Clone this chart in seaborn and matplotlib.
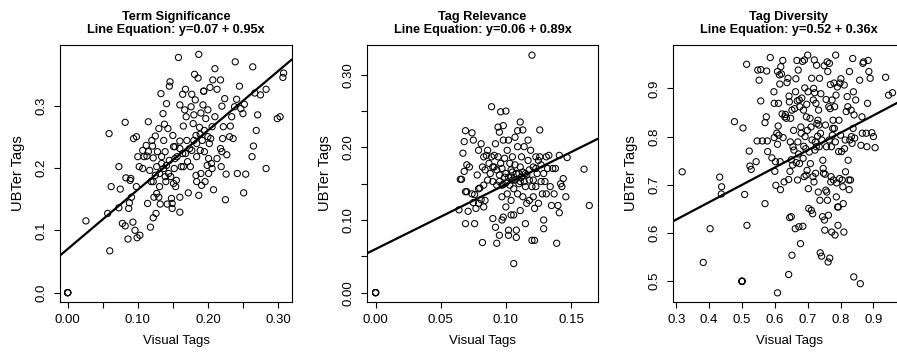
import numpy as np
import pandas as pd
import seaborn as sns
import matplotlib.pyplot as plt

# Term Significance: visual tags vs UBTer tags
ts_x = [0, 0, 0, 0,
        0.026, 0.057, 0.060, 0.059, 0.062, 0.073, 0.075, 0.073, 0.078, 0.082,
        0.082, 0.083, 0.086, 0.087, 0.088, 0.089, 0.090, 0.093, 0.094, 0.096,
        0.098, 0.098, 0.100, 0.099, 0.103, 0.091, 0.107, 0.107, 0.112, 0.113,
        0.115, 0.114, 0.117, 0.118, 0.119, 0.120, 0.121, 0.122, 0.122, 0.123,
        0.125, 0.125, 0.126, 0.127, 0.128, 0.130, 0.131, 0.132, 0.133, 0.134,
        0.136, 0.137, 0.138, 0.139, 0.140, 0.141, 0.142, 0.143, 0.144, 0.145,
        0.146, 0.148, 0.149, 0.149, 0.150, 0.151, 0.152, 0.153, 0.154, 0.155,
        0.158, 0.160, 0.160, 0.160, 0.160, 0.162, 0.164, 0.164, 0.165, 0.167,
        0.168, 0.169, 0.170, 0.171, 0.172, 0.174, 0.175, 0.176, 0.177, 0.179,
        0.180, 0.181, 0.182, 0.183, 0.183, 0.184, 0.186, 0.187, 0.187, 0.188,
        0.189, 0.190, 0.190, 0.191, 0.193, 0.194, 0.194, 0.195, 0.196, 0.197,
        0.199, 0.200, 0.200, 0.201, 0.202, 0.203, 0.204, 0.205, 0.206, 0.207,
        0.208, 0.210, 0.210, 0.213, 0.218, 0.219, 0.220, 0.220, 0.221, 0.222,
        0.224, 0.225, 0.226, 0.227, 0.231, 0.232, 0.234, 0.236, 0.238, 0.239,
        0.241, 0.242, 0.245, 0.247, 0.250, 0.251, 0.252, 0.254, 0.263, 0.264,
        0.265, 0.267, 0.269, 0.271, 0.275, 0.283, 0.283, 0.299, 0.303, 0.307,
        0.308,
        0.127, 0.131, 0.137, 0.141, 0.145, 0.134, 0.139, 0.147, 0.130, 0.122,
        0.168, 0.165, 0.156, 0.151, 0.153, 0.160, 0.115, 0.109, 0.102, 0.180,
        0.177, 0.184, 0.189, 0.192, 0.195, 0.184, 0.201, 0.206, 0.213, 0.218]
ts_y = [0, 0, 0, 0,
        0.115, 0.127, 0.067, 0.255, 0.170, 0.202, 0.166, 0.136, 0.111, 0.273,
        0.107, 0.184, 0.086, 0.135, 0.144, 0.180, 0.183, 0.113, 0.247, 0.100,
        0.250, 0.170, 0.218, 0.088, 0.092, 0.153, 0.228, 0.199, 0.236, 0.219,
        0.274, 0.143, 0.196, 0.105, 0.178, 0.244, 0.235, 0.216, 0.120, 0.153,
        0.188, 0.251, 0.127, 0.159, 0.226, 0.263, 0.170, 0.142, 0.319, 0.207,
        0.287, 0.244, 0.270, 0.226, 0.178, 0.303, 0.142, 0.263, 0.191, 0.331,
        0.338, 0.151, 0.143, 0.135, 0.252, 0.234, 0.199, 0.215, 0.170, 0.180,
        0.377, 0.301, 0.129, 0.243, 0.153, 0.202, 0.223, 0.318, 0.267, 0.293,
        0.326, 0.282, 0.244, 0.210, 0.160, 0.231, 0.202, 0.298, 0.318, 0.271,
        0.285, 0.350, 0.309, 0.252, 0.188, 0.178, 0.344, 0.156, 0.382, 0.265,
        0.228, 0.191, 0.288, 0.172, 0.301, 0.323, 0.323, 0.226, 0.178, 0.279,
        0.204, 0.250, 0.293, 0.215, 0.239, 0.329, 0.247, 0.207, 0.266, 0.341,
        0.165, 0.359, 0.282, 0.326, 0.341, 0.202, 0.299, 0.226, 0.247, 0.266,
        0.311, 0.149, 0.190, 0.221, 0.250, 0.267, 0.282, 0.247, 0.298, 0.370,
        0.310, 0.191, 0.331, 0.295, 0.287, 0.160, 0.302, 0.190, 0.218, 0.362,
        0.235, 0.320, 0.260, 0.285, 0.317, 0.326, 0.199, 0.279, 0.282, 0.345,
        0.352,
        0.202, 0.191, 0.199, 0.204, 0.212, 0.218, 0.186, 0.186, 0.153, 0.178,
        0.223, 0.202, 0.218, 0.175, 0.234, 0.231, 0.226, 0.218, 0.202, 0.244,
        0.228, 0.239, 0.254, 0.244, 0.260, 0.218, 0.191, 0.199, 0.215, 0.231]

# Tag Relevance
tr_x = [0, 0, 0, 0,
        0.064, 0.065, 0.066, 0.067, 0.068, 0.068, 0.069, 0.069, 0.069, 0.070,
        0.070, 0.071, 0.072, 0.074, 0.074, 0.075, 0.075, 0.076, 0.076, 0.077,
        0.078, 0.079, 0.079, 0.079, 0.080, 0.081, 0.081, 0.082, 0.082, 0.083,
        0.083, 0.083, 0.084, 0.084, 0.085, 0.086, 0.086, 0.087, 0.088, 0.089,
        0.089, 0.090, 0.090, 0.090, 0.091, 0.091, 0.092, 0.092, 0.093, 0.093,
        0.093, 0.094, 0.094, 0.095, 0.095, 0.095, 0.096, 0.096, 0.097, 0.097,
        0.097, 0.098, 0.098, 0.098, 0.099, 0.099, 0.100, 0.100, 0.100, 0.101,
        0.101, 0.102, 0.102, 0.102, 0.103, 0.103, 0.104, 0.104, 0.104, 0.105,
        0.105, 0.106, 0.106, 0.106, 0.107, 0.107, 0.108, 0.108, 0.108, 0.109,
        0.109, 0.109, 0.110, 0.111, 0.111, 0.111, 0.112, 0.112, 0.113, 0.113,
        0.114, 0.115, 0.115, 0.115, 0.116, 0.117, 0.117, 0.118, 0.118, 0.119,
        0.120, 0.120, 0.120, 0.121, 0.121, 0.122, 0.122, 0.123, 0.123, 0.124,
        0.125, 0.126, 0.126, 0.127, 0.127, 0.128, 0.129, 0.129, 0.129, 0.130,
        0.131, 0.131, 0.132, 0.133, 0.134, 0.135, 0.136, 0.137, 0.138, 0.139,
        0.140, 0.141, 0.141, 0.142, 0.143, 0.144, 0.146, 0.147, 0.160, 0.164,
        0.095, 0.097, 0.098, 0.100, 0.102, 0.104, 0.105, 0.107, 0.110, 0.111,
        0.113, 0.114, 0.116, 0.118, 0.121, 0.123, 0.125]
tr_y = [0, 0, 0, 0,
        0.114, 0.156, 0.156, 0.192, 0.167, 0.208, 0.223, 0.095, 0.139, 0.176,
        0.139, 0.112, 0.173, 0.136, 0.220, 0.124, 0.210, 0.095, 0.135, 0.116,
        0.162, 0.143, 0.196, 0.123, 0.144, 0.128, 0.205, 0.173, 0.069, 0.148,
        0.118, 0.187, 0.169, 0.127, 0.189, 0.155, 0.196, 0.178, 0.164, 0.256,
        0.187, 0.102, 0.173, 0.153, 0.189, 0.173, 0.205, 0.090, 0.068, 0.148,
        0.169, 0.187, 0.228, 0.162, 0.079, 0.221, 0.178, 0.249, 0.100, 0.148,
        0.132, 0.210, 0.230, 0.104, 0.185, 0.159, 0.118, 0.250, 0.164, 0.136,
        0.196, 0.086, 0.079, 0.210, 0.148, 0.178, 0.127, 0.169, 0.107, 0.187,
        0.155, 0.040, 0.143, 0.107, 0.176, 0.214, 0.086, 0.076, 0.164, 0.223,
        0.201, 0.136, 0.150, 0.173, 0.113, 0.235, 0.187, 0.159, 0.224, 0.132,
        0.201, 0.164, 0.095, 0.146, 0.123, 0.210, 0.182, 0.155, 0.127, 0.196,
        0.146, 0.327, 0.072, 0.173, 0.132, 0.072, 0.116, 0.187, 0.146, 0.164,
        0.123, 0.187, 0.224, 0.153, 0.176, 0.136, 0.164, 0.100, 0.088, 0.153,
        0.187, 0.136, 0.171, 0.189, 0.146, 0.120, 0.171, 0.136, 0.171, 0.068,
        0.120, 0.189, 0.110, 0.150, 0.146, 0.157, 0.132, 0.186, 0.170, 0.120,
        0.153, 0.171, 0.149, 0.151, 0.159, 0.159, 0.166, 0.155, 0.164, 0.153,
        0.166, 0.153, 0.162, 0.169, 0.155, 0.171, 0.182]

# Tag Diversity
td_x = [0.318, 0.382, 0.403, 0.432, 0.438, 0.437, 0.477, 0.500, 0.500, 0.500,
        0.500, 0.503, 0.508, 0.514, 0.515, 0.522, 0.524, 0.528, 0.543, 0.546,
        0.548, 0.552, 0.557, 0.557, 0.562, 0.570, 0.570, 0.574, 0.577, 0.575,
        0.578, 0.586, 0.591, 0.597, 0.598, 0.598, 0.600, 0.602, 0.603, 0.606,
        0.608, 0.608, 0.608, 0.610, 0.611, 0.612, 0.614, 0.615, 0.616, 0.617,
        0.618, 0.620, 0.622, 0.624, 0.625, 0.628, 0.630, 0.632, 0.635, 0.637,
        0.640, 0.642, 0.642, 0.643, 0.644, 0.645, 0.646, 0.647, 0.648, 0.650,
        0.650, 0.652, 0.652, 0.654, 0.655, 0.657, 0.658, 0.660, 0.662, 0.663,
        0.664, 0.665, 0.667, 0.668, 0.669, 0.670, 0.671, 0.672, 0.673, 0.674,
        0.675, 0.676, 0.678, 0.679, 0.680, 0.682, 0.684, 0.685, 0.686, 0.687,
        0.688, 0.689, 0.690, 0.691, 0.692, 0.694, 0.695, 0.696, 0.697, 0.698,
        0.699, 0.700, 0.701, 0.702, 0.703, 0.705, 0.707, 0.708, 0.710, 0.711,
        0.712, 0.713, 0.715, 0.716, 0.717, 0.718, 0.719, 0.720, 0.721, 0.722,
        0.723, 0.724, 0.725, 0.726, 0.727, 0.728, 0.730, 0.731, 0.732, 0.733,
        0.734, 0.735, 0.736, 0.737, 0.738, 0.739, 0.740, 0.742, 0.743, 0.745,
        0.746, 0.747, 0.748, 0.750, 0.751, 0.752, 0.753, 0.754, 0.755, 0.756,
        0.757, 0.758, 0.759, 0.760, 0.761, 0.762, 0.763, 0.764, 0.765, 0.766,
        0.767, 0.768, 0.769, 0.770, 0.771, 0.772, 0.773, 0.774, 0.775, 0.776,
        0.777, 0.778, 0.780, 0.781, 0.782, 0.783, 0.784, 0.785, 0.786, 0.787,
        0.788, 0.790, 0.791, 0.792, 0.793, 0.794, 0.795, 0.797, 0.798, 0.800,
        0.801, 0.803, 0.805, 0.807, 0.808, 0.810, 0.811, 0.812, 0.814, 0.815,
        0.817, 0.820, 0.822, 0.823, 0.825, 0.826, 0.827, 0.828, 0.830, 0.832,
        0.833, 0.835, 0.837, 0.838, 0.839, 0.840, 0.841, 0.843, 0.846, 0.858,
        0.860, 0.862, 0.865, 0.866, 0.868, 0.870, 0.878, 0.880, 0.882, 0.884,
        0.886, 0.890, 0.895, 0.900, 0.905, 0.937, 0.946, 0.958]
td_y = [0.727, 0.539, 0.609, 0.716, 0.696, 0.681, 0.831, 0.500, 0.500, 0.500,
        0.500, 0.818, 0.680, 0.950, 0.616, 0.770, 0.739, 0.732, 0.748, 0.791,
        0.938, 0.917, 0.939, 0.874, 0.791, 0.829, 0.661, 0.841, 0.791, 0.936,
        0.769, 0.964, 0.756, 0.893, 0.869, 0.798, 0.728, 0.748, 0.699, 0.807,
        0.784, 0.935, 0.476, 0.822, 0.869, 0.803, 0.928, 0.909, 0.748, 0.690,
        0.945, 0.930, 0.847, 0.958, 0.798, 0.706, 0.841, 0.846, 0.838, 0.912,
        0.921, 0.711, 0.514, 0.884, 0.872, 0.632, 0.728, 0.789, 0.838, 0.634,
        0.752, 0.554, 0.855, 0.741, 0.779, 0.813, 0.772, 0.858, 0.609, 0.893,
        0.920, 0.746, 0.958, 0.874, 0.710, 0.789, 0.938, 0.764, 0.613, 0.876,
        0.744, 0.862, 0.578, 0.820, 0.807, 0.880, 0.956, 0.614, 0.755, 0.855,
        0.780, 0.717, 0.959, 0.901, 0.800, 0.775, 0.720, 0.841, 0.867, 0.730,
        0.813, 0.969, 0.893, 0.692, 0.651, 0.768, 0.838, 0.744, 0.820, 0.647,
        0.921, 0.793, 0.640, 0.717, 0.876, 0.900, 0.706, 0.959, 0.891, 0.772,
        0.789, 0.724, 0.869, 0.779, 0.948, 0.827, 0.801, 0.834, 0.685, 0.855,
        0.824, 0.779, 0.921, 0.668, 0.559, 0.807, 0.889, 0.552, 0.793, 0.634,
        0.751, 0.734, 0.724, 0.947, 0.627, 0.606, 0.722, 0.824, 0.689, 0.877,
        0.779, 0.685, 0.955, 0.668, 0.935, 0.540, 0.637, 0.862, 0.793, 0.952,
        0.548, 0.858, 0.908, 0.706, 0.717, 0.779, 0.602, 0.876, 0.803, 0.817,
        0.834, 0.710, 0.911, 0.817, 0.862, 0.596, 0.789, 0.969, 0.886, 0.675,
        0.704, 0.903, 0.654, 0.616, 0.654, 0.769, 0.834, 0.713, 0.911, 0.803,
        0.920, 0.769, 0.710, 0.696, 0.661, 0.602, 0.907, 0.775, 0.793, 0.727,
        0.852, 0.883, 0.862, 0.751, 0.710, 0.690, 0.935, 0.793, 0.710, 0.855,
        0.800, 0.786, 0.962, 0.817, 0.893, 0.509, 0.845, 0.797, 0.876, 0.917,
        0.495, 0.782, 0.841, 0.807, 0.952, 0.955, 0.807, 0.779, 0.869, 0.958,
        0.935, 0.921, 0.808, 0.800, 0.777, 0.923, 0.886, 0.891]

titles = ["Term Significance", "Tag Relevance", "Tag Diversity"]
intercepts = [0.07, 0.06, 0.52]
slopes = [0.95, 0.89, 0.36]

# axis ticks (R drops labels that would collide)
x_ticks = [[0, 0.05, 0.10, 0.15, 0.20, 0.25, 0.30],
           [0, 0.05, 0.10, 0.15],
           [0.3, 0.4, 0.5, 0.6, 0.7, 0.8, 0.9]]
x_labels = [["0.00", "", "0.10", "", "0.20", "", "0.30"],
            ["0.00", "0.05", "0.10", "0.15"],
            ["0.3", "0.4", "0.5", "0.6", "0.7", "0.8", "0.9"]]
y_ticks = [[0.0, 0.1, 0.2, 0.3],
           [0, 0.05, 0.10, 0.15, 0.20, 0.25, 0.30],
           [0.5, 0.6, 0.7, 0.8, 0.9]]
y_labels = [["0.0", "0.1", "0.2", "0.3"],
            ["0.00", "", "0.10", "", "0.20", "", "0.30"],
            ["0.5", "0.6", "0.7", "0.8", "0.9"]]

sns.set_theme(style="ticks", rc={
    "axes.edgecolor": "black", "axes.linewidth": 0.8,
    "xtick.color": "black", "ytick.color": "black",
    "text.color": "black", "axes.labelcolor": "black",
    "xtick.major.size": 4.3, "ytick.major.size": 4.3,
    "xtick.major.width": 0.8, "ytick.major.width": 0.8,
    "xtick.major.pad": 4.5, "ytick.major.pad": 4.5,
})
plt.rcParams["font.family"] = ["Liberation Sans", "DejaVu Sans"]

fig = plt.figure(figsize=(8.97, 3.52), dpi=100)
W, H = 897.0, 352.0
rects = [[60 / W, 50 / H, 232 / W, 257 / H],
         [367 / W, 50 / H, 231 / W, 257 / H],
         [673 / W, 50 / H, 232 / W, 257 / H]]
xlims = [(-0.011, 0.320), (-0.0066, 0.1707), (0.290, 0.996)]
ylims = [(-0.015, 0.397), (-0.0129, 0.341), (0.457, 0.990)]

data = [(ts_x, ts_y), (tr_x, tr_y), (td_x, td_y)]

for i in range(3):
    ax = fig.add_axes(rects[i])
    df = pd.DataFrame({"x": data[i][0], "y": data[i][1]})
    sns.scatterplot(data=df, x="x", y="y", ax=ax, s=20, marker="o",
                    facecolor="none", edgecolor="black", linewidth=0.75)
    ax.axline((0, intercepts[i]), slope=slopes[i], color="black", lw=1.6)
    ax.set_xlim(*xlims[i])
    ax.set_ylim(*ylims[i])
    ax.set_xticks(x_ticks[i])
    ax.set_xticklabels(x_labels[i], fontsize=9.5)
    ax.set_yticks(y_ticks[i])
    ax.set_yticklabels(y_labels[i], fontsize=9.5, rotation=90, va="center")
    ax.set_xlabel("Visual Tags", fontsize=9.5)
    ax.set_ylabel("UBTer Tags", fontsize=10.5)
    ax.xaxis.set_label_coords(0.5, -0.13)
    ax.yaxis.set_label_coords(-0.15, 0.5)
    ax.set_title(f"{titles[i]}\nLine Equation: y={intercepts[i]:.2f} + {slopes[i]:.2f}x",
                 fontsize=9.2, fontweight="bold", linespacing=1.1, pad=9)
    for side in ["top", "right", "left", "bottom"]:
        ax.spines[side].set_visible(True)

plt.savefig("out.png", dpi=100)
